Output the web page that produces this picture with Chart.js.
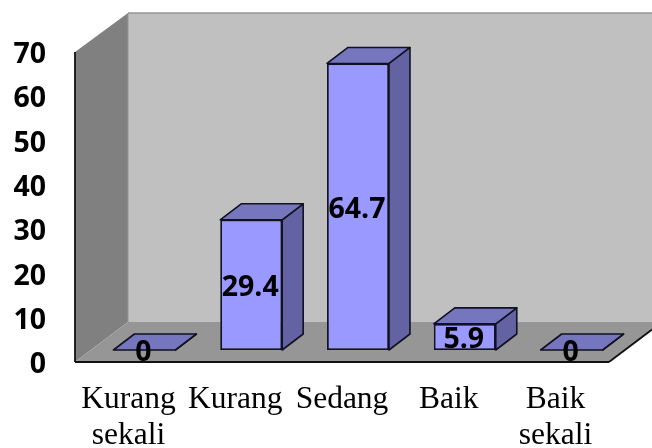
<!DOCTYPE html>
<html>
<head>
<meta charset="utf-8">
<title>Chart</title>
<script src="https://cdn.jsdelivr.net/npm/chart.js@4"></script>
<style>
  html, body { margin: 0; padding: 0; background: #fff; overflow: hidden; }
  canvas { display: block; }
</style>
</head>
<body>
<canvas id="chart" width="652" height="448"></canvas>
<script>
const categories = [['Kurang', 'sekali'], 'Kurang', 'Sedang', 'Baik', ['Baik', 'sekali']];
const values = [0, 29.4, 64.7, 5.9, 0];
const valueLabels = ['0', '29.4', '64.7', '5.9', '0'];

// 3D look: room depth and where the bars stand on the floor
const roomDepth = { x: 53, y: 40 };
const barOffset = { x: 16, y: 12 };
const barDepth = { x: 21, y: 16 };

function poly(ctx, pts, fill, stroke, lineWidth) {
    ctx.beginPath();
    pts.forEach((p, i) => (i ? ctx.lineTo(p[0], p[1]) : ctx.moveTo(p[0], p[1])));
    ctx.closePath();
    if (fill) {
        ctx.fillStyle = fill;
        ctx.fill();
    }
    if (stroke) {
        ctx.strokeStyle = stroke;
        ctx.lineWidth = lineWidth;
        ctx.lineJoin = 'round';
        ctx.stroke();
    }
}

function line(ctx, x1, y1, x2, y2, color, width) {
    ctx.beginPath();
    ctx.moveTo(x1, y1);
    ctx.lineTo(x2, y2);
    ctx.strokeStyle = color;
    ctx.lineWidth = width;
    ctx.stroke();
}

const room3d = {
    id: 'room3d',
    afterDatasetsUpdate(chart) {
        // stand the bars on the floor, behind the front edge
        chart.getDatasetMeta(0).data.forEach(bar => {
            bar.x += barOffset.x;
            bar.y -= barOffset.y;
            bar.base -= barOffset.y;
        });
    },
    beforeDatasetsDraw(chart) {
        const { ctx, chartArea: a, width } = chart;
        const backX = a.left + roomDepth.x;
        const backBottom = a.bottom - roomDepth.y;
        const backTop = a.top - roomDepth.y + 1;
        const floorRightY = a.bottom - (width - a.right) * roomDepth.y / roomDepth.x;

        ctx.save();
        // back wall
        poly(ctx, [[backX, backTop], [width, backTop], [width, backBottom], [backX, backBottom]], '#c0c0c0');
        line(ctx, backX, backTop, width, backTop, '#969696', 1.5);
        // left wall
        poly(ctx, [[a.left, a.top], [backX, backTop], [backX, backBottom], [a.left, a.bottom]], '#808080');
        line(ctx, backX, backTop, backX, backBottom, '#969696', 1);
        // floor
        poly(ctx, [[a.left, a.bottom], [backX, backBottom], [width, backBottom], [width, floorRightY], [a.right, a.bottom]], '#969696');
        line(ctx, a.left, a.top, a.left, a.bottom, '#111', 1.8);
        line(ctx, a.left, a.bottom, a.right, a.bottom, '#111', 1.8);
        line(ctx, a.right, a.bottom, width, floorRightY, '#111', 1.8);

        // bar side and top faces
        chart.getDatasetMeta(0).data.forEach(bar => {
            const l = bar.x - bar.width / 2;
            const r = bar.x + bar.width / 2;
            const d = barDepth;
            poly(ctx, [[r, bar.y], [r + d.x, bar.y - d.y], [r + d.x, bar.base - d.y], [r, bar.base]], '#6363a3', '#111122', 1.6);
            poly(ctx, [[l, bar.y], [l + d.x, bar.y - d.y], [r + d.x, bar.y - d.y], [r, bar.y]], '#7676bf', '#111122', 1.6);
        });
        ctx.restore();
    },
    afterDatasetsDraw(chart) {
        const { ctx } = chart;
        ctx.save();
        ctx.font = 'bold 28.5px "Open Sans"';
        ctx.fillStyle = '#000';
        ctx.textAlign = 'center';
        ctx.textBaseline = 'middle';
        chart.getDatasetMeta(0).data.forEach((bar, i) => {
            ctx.fillText(valueLabels[i], bar.x - 1, (bar.y + bar.base) / 2 + 3);
        });
        ctx.restore();
    }
};

new Chart(document.getElementById('chart'), {
    type: 'bar',
    data: {
        labels: categories,
        datasets: [{
            data: values,
            backgroundColor: '#9999ff',
            borderColor: '#111122',
            borderWidth: 1.8,
            borderSkipped: false,
            barPercentage: 0.58,
            categoryPercentage: 1,
            clip: false
        }]
    },
    options: {
        responsive: false,
        animation: false,
        layout: { padding: { top: 52, right: 43, left: 0, bottom: 0 } },
        plugins: {
            legend: { display: false },
            tooltip: { enabled: false }
        },
        scales: {
            x: {
                grid: { display: false, drawTicks: false },
                border: { display: false },
                afterFit: scale => { scale.height = 86; },
                ticks: {
                    autoSkip: false,
                    maxRotation: 0,
                    padding: 20,
                    color: '#000',
                    font: { family: '"Liberation Serif"', size: 31.5, lineHeight: 1.14 }
                }
            },
            y: {
                min: 0,
                max: 70,
                grid: { display: false, drawTicks: false },
                border: { display: false },
                afterFit: scale => { scale.width = 75; },
                ticks: {
                    stepSize: 10,
                    padding: 29,
                    labelOffset: 3,
                    color: '#000',
                    font: { family: '"Open Sans"', weight: 'bold', size: 28.5 }
                }
            }
        }
    },
    plugins: [room3d]
});
</script>
</body>
</html>
